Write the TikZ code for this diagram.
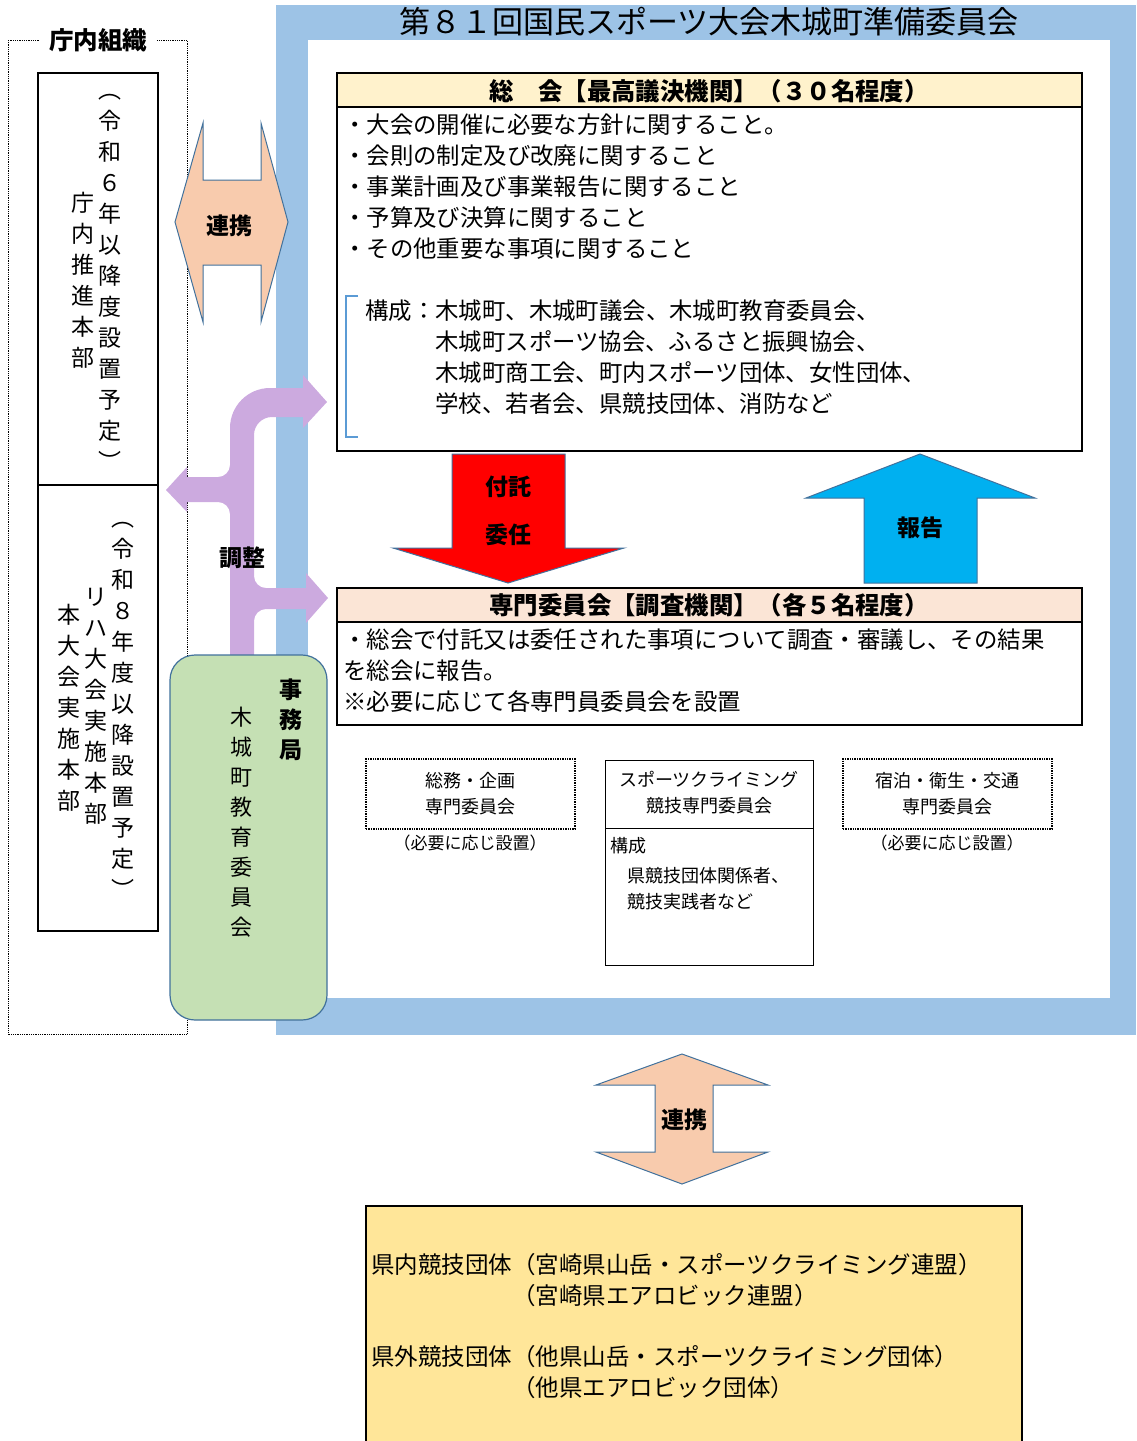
\documentclass[tikz,border=0pt]{standalone}
\usepackage{fontspec}
\setmainfont{Noto Sans CJK JP}

\definecolor{waku}{HTML}{9DC3E6}
\definecolor{edgebl}{HTML}{41719C}
\definecolor{headyel}{HTML}{FFF2CC}
\definecolor{headpink}{HTML}{FBE5D6}
\definecolor{peach}{HTML}{F8CBAD}
\definecolor{skybl}{HTML}{00B0F0}
\definecolor{lilac}{HTML}{CCAADF}
\definecolor{mossgr}{HTML}{C5E0B4}
\definecolor{sandyel}{HTML}{FFE699}
\definecolor{brackbl}{HTML}{5B9BD5}

\begin{document}
\begin{tikzpicture}[x=1pt, y=-1pt,
    honbun/.style={font=\fontsize{23.4}{31}\selectfont, inner sep=0pt, align=left},
    midashi/.style={font=\bfseries\fontsize{24.4}{28}\selectfont, inner sep=0pt},
    tate/.style={font=\fontsize{23}{31}\selectfont, inner sep=0pt, align=center},
    kobako/.style={font=\fontsize{18}{26}\selectfont, inner sep=0pt, align=center},
    tenwaku/.style={draw, densely dotted, line width=1.4pt},
    yajirushi/.style={draw=edgebl, line width=1pt},
    futoji/.style={font=\bfseries\fontsize{23}{28}\selectfont, inner sep=0pt}]
        \useasboundingbox (0,0) rectangle (1136,1441);
        % 外枠
        \fill[waku] (276,5) rectangle (1136,1035);
        \fill[white] (308,40) rectangle (1110,998);
        \node[font=\fontsize{31}{31}\selectfont, inner sep=0pt] (title) at (709,22) {第８１回国民スポーツ大会木城町準備委員会};
        % 庁内組織
        \draw[densely dotted, thick] (8,40) rectangle (187,1034);
        \node[fill=white, font=\bfseries\fontsize{24.5}{28}\selectfont, inner xsep=9pt, inner ysep=2pt] (chonai) at (98,40) {庁内組織};
        \node[draw, line width=2pt, minimum width=120, minimum height=412, inner sep=0pt] (suishin) at (98,279) {};
        \node[tate] (suishin-yotei) at (110,282) {︵\\令\\和\\６\\年\\以\\降\\度\\設\\置\\予\\定\\︶};
        \node[tate] (suishin-mei) at (83,280) {庁\\内\\推\\進\\本\\部};
        \node[draw, line width=2pt, minimum width=120, minimum height=446, inner sep=0pt] (jisshi) at (98,708) {};
        \node[tate] (jisshi-yotei) at (123,710) {︵\\令\\和\\８\\年\\度\\以\\降\\設\\置\\予\\定\\︶};
        \node[tate] (jisshi-riha) at (96,706) {リ\\ハ\\大\\会\\実\\施\\本\\部};
        \node[tate] (jisshi-hon) at (69,708) {本\\大\\会\\実\\施\\本\\部};
        % 連携（左）
        \filldraw[yajirushi, fill=peach] (203,123) -- (175,222) -- (203,322) -- (203,265) -- (261,265) -- (261,322)
            -- (288,222) -- (261,123) -- (261,180) -- (203,180) -- cycle;
        \node[futoji] (renkei-hidari) at (229,226) {連携};
        % 調整
        \fill[lilac] (242,655) -- (230,655)
            [rounded corners=12pt] -- (230,502)
            [sharp corners] -- (187,502) -- (187,512) -- (166,490) -- (187,467) -- (187,477)
            [rounded corners=12pt] -- (230,477)
            [rounded corners=40pt] -- (230,388)
            [sharp corners] -- (303,388) -- (303,375) -- (327,402) -- (303,428) -- (303,417)
            [rounded corners=18pt] -- (254,417)
            [rounded corners=12pt] -- (254,588)
            [sharp corners] -- (306,588) -- (306,573) -- (328,598) -- (306,623) -- (306,609)
            [rounded corners=12pt] -- (254,609)
            [sharp corners] -- (254,655) -- cycle;
        \node[futoji] (chousei) at (242,558) {調整};
        % 事務局
        \node[draw=edgebl, fill=mossgr, line width=1.2pt, rounded corners=25pt, minimum width=157, minimum height=365, inner sep=0pt] (jimukyoku) at (248.5,837.5) {};
        \node[tate, font=\bfseries\fontsize{23}{30}\selectfont] (jimu-mei) at (291,720) {事\\務\\局};
        \node[tate, font=\fontsize{22}{30}\selectfont] (jimu-kyoiku) at (241,822) {木\\城\\町\\教\\育\\委\\員\\会};
        % 総会
        \node[draw, line width=2pt, fill=white, minimum width=745, minimum height=378, inner sep=0pt] (soukai) at (709.5,262) {};
        \filldraw[fill=headyel, line width=2pt] (337,73) rectangle (1082,107);
        \node[midashi] (soukai-mei) at (709,91) {総　会【最高議決機関】（３０名程度）};
        \node[honbun, anchor=north west] (soukai-naiyo) at (343,113.5) {・大会の開催に必要な方針に関すること。\\・会則の制定及び改廃に関すること\\・事業計画及び事業報告に関すること\\・予算及び決算に関すること\\・その他重要な事項に関すること};
        \node[honbun, anchor=north west] (soukai-kousei) at (365,299.5) {構成：木城町、木城町議会、木城町教育委員会、\\\hspace*{3em}木城町スポーツ協会、ふるさと振興協会、\\\hspace*{3em}木城町商工会、町内スポーツ団体、女性団体、\\\hspace*{3em}学校、若者会、県競技団体、消防など};
        \draw[brackbl, line width=1.3pt] (358,296) -- (346,296) -- (346,437) -- (358,437);
        % 付託・委任
        \filldraw[yajirushi, fill=red] (452,454) -- (565,454) -- (565,548) -- (624,548) -- (508,583) -- (393,548) -- (452,548) -- cycle;
        \node[futoji] (futaku) at (508,487) {付託};
        \node[futoji] (inin) at (508,535) {委任};
        % 報告
        \filldraw[yajirushi, fill=skybl] (920,454) -- (1035,498) -- (977,498) -- (977,583) -- (864,583) -- (864,498) -- (806,498) -- cycle;
        \node[futoji] (houkoku) at (920,528) {報告};
        % 専門委員会
        \node[draw, line width=2pt, fill=white, minimum width=745, minimum height=137, inner sep=0pt] (senmon) at (709.5,656.5) {};
        \filldraw[fill=headpink, line width=2pt] (337,588) rectangle (1082,622);
        \node[midashi] (senmon-mei) at (709,605) {専門委員会【調査機関】（各５名程度）};
        \node[honbun, anchor=north west] (senmon-naiyo) at (343,628.5) {・総会で付託又は委任された事項について調査・審議し、その結果\\を総会に報告。\\※必要に応じて各専門員委員会を設置};
        % 各専門委員会
        \node[tenwaku, minimum width=209, minimum height=70, kobako] (soumu) at (470.5,794) {総務・企画\\専門委員会};
        \node[kobako, font=\fontsize{17}{20}\selectfont] (soumu-chu) at (470,843) {（必要に応じ設置）};
        \node[draw, thick, minimum width=208, minimum height=205, inner sep=0pt] (climbing) at (709,862.5) {};
        \draw[thick] (605,828) -- (813,828);
        \node[kobako] (climbing-mei) at (709,793) {スポーツクライミング\\競技専門委員会};
        \node[kobako, anchor=west] (climbing-kousei) at (610,846) {構成};
        \node[kobako, align=left, anchor=north west] (climbing-naiyo) at (627,867) {県競技団体関係者、\\競技実践者など};
        \node[tenwaku, minimum width=209, minimum height=70, kobako] (shukuhaku) at (947.5,794) {宿泊・衛生・交通\\専門委員会};
        \node[kobako, font=\fontsize{17}{20}\selectfont] (shukuhaku-chu) at (947,843) {（必要に応じ設置）};
        % 連携（下）
        \filldraw[yajirushi, fill=peach] (682,1054) -- (768,1085) -- (713,1085) -- (713,1152) -- (768,1152) -- (682,1184)
            -- (596,1152) -- (655,1152) -- (655,1085) -- (596,1085) -- cycle;
        \node[futoji] (renkei-shita) at (684,1120) {連携};
        % 競技団体
        \filldraw[fill=sandyel, line width=1.5pt] (366,1206) rectangle (1022,1460);
        \node[honbun, anchor=north west, font=\fontsize{23.5}{31}\selectfont] (dantai) at (371,1253.5) {県内競技団体（宮崎県山岳・スポーツクライミング連盟）\\\hspace*{6em}（宮崎県エアロビック連盟）\\[30pt]県外競技団体（他県山岳・スポーツクライミング団体）\\\hspace*{6em}（他県エアロビック団体）};
    \end{tikzpicture}
\end{document}
